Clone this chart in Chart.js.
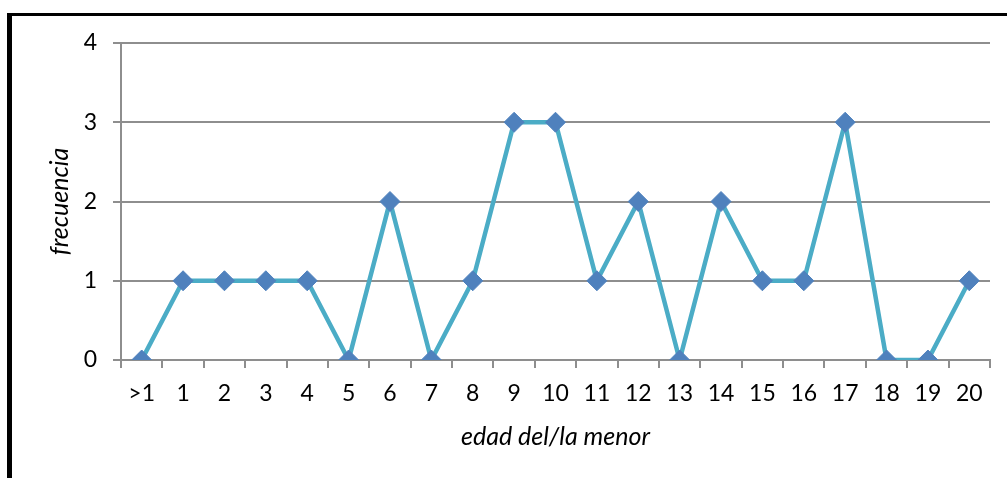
<!DOCTYPE html>
<html lang="es">
<head>
  <meta charset="UTF-8" />
  <title>frecuencia por edad</title>
  <script src="https://cdn.jsdelivr.net/npm/chart.js@4.4.0/dist/chart.umd.min.js"></script>
  <style>
    body { margin: 0; background: #fff; overflow: hidden; }
    #marco {
      position: absolute; left: 7px; top: 13px; width: 1100px; height: 600px;
      border-left: 5px solid #000; border-top: 3px solid #000;
    }
    #wrap { position: absolute; left: 0; top: 0; width: 1007px; height: 478px; }
  </style>
</head>
<body>
  <div id="marco"></div>
  <div id="wrap"><canvas id="grafico"></canvas></div>

<script>
  // datos
  const edades = ['>1', '1', '2', '3', '4', '5', '6', '7', '8', '9', '10',
                  '11', '12', '13', '14', '15', '16', '17', '18', '19', '20'];
  const frecuencias = [0, 1, 1, 1, 1, 0, 2, 0, 1, 3, 3, 1, 2, 0, 2, 1, 1, 3, 0, 0, 1];
  const ticksY = [0, 1, 2, 3, 4];

  const fuente = "Lato, 'Open Sans', sans-serif";
  const gris = '#8e8e8e';

  new Chart(document.getElementById('grafico'), {
    type: 'line',
    data: {
      labels: edades,
      datasets: [{
        data: frecuencias,
        borderColor: '#4BACC6',
        borderWidth: 4.5,
        pointStyle: 'rectRot',
        pointRadius: 10,
        pointBackgroundColor: '#4F81BD',
        pointBorderColor: '#4F81BD',
        pointBorderWidth: 1,
        tension: 0
      }]
    },
    options: {
      responsive: true,
      maintainAspectRatio: false,
      animation: false,
      layout: { padding: { top: 43, right: 17, left: 0, bottom: 0 } },
      plugins: { legend: { display: false }, tooltip: { enabled: false } },
      scales: {
        x: {
          offset: true,
          afterFit: s => { s.height = 118; },
          grid: { offset: true, drawOnChartArea: false, color: gris, lineWidth: 2, tickLength: 8 },
          border: { color: gris, width: 2 },
          ticks: { color: '#000', font: { family: fuente, size: 23 }, padding: 12, maxRotation: 0, autoSkip: false },
          title: { display: true, text: 'edad del/la menor', color: '#000',
                   font: { family: fuente, size: 25, style: 'italic' }, padding: { bottom: 26 } }
        },
        y: {
          min: 0, max: 4,
          afterFit: s => { s.width = 121; },
          afterBuildTicks: s => { s.ticks = ticksY.map(v => ({ value: v })); },
          grid: { color: gris, lineWidth: 2, tickLength: 8 },
          border: { color: gris, width: 2 },
          ticks: { color: '#000', font: { family: fuente, size: 23 }, padding: 16 },
          title: { display: true, text: 'frecuencia', color: '#000',
                   font: { family: fuente, size: 25, style: 'italic' }, padding: { top: 45 } }
        }
      }
    }
  });
</script>
</body>
</html>
